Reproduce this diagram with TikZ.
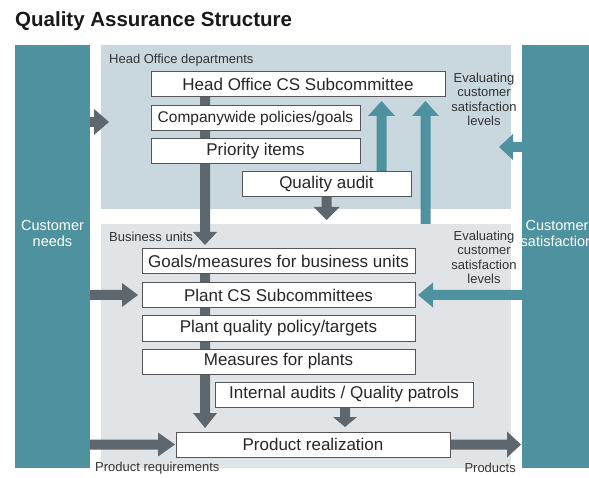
\documentclass[tikz,border=0pt]{standalone}
\usepackage{fontspec}
\setmainfont{Liberation Sans}
\usetikzlibrary{calc}
\definecolor{tealbar}{HTML}{4E929F}
\definecolor{arrgray}{HTML}{5E666E}
\definecolor{hopanel}{HTML}{C9D8DF}
\definecolor{bupanel}{HTML}{E1E4E7}
\definecolor{boxline}{HTML}{555555}
\definecolor{txt}{HTML}{333333}
\newcommand\ArrDown[5]{\fill[#1] let \p1=(#2), \p2=(#3) in (\x2-5pt,\y1) -- (\x2-5pt,\y2+#5) -- (\x2-#4,\y2+#5) -- (\x2,\y2) -- (\x2+#4,\y2+#5) -- (\x2+5pt,\y2+#5) -- (\x2+5pt,\y1) -- cycle;}
\newcommand\ArrUp[5]{\fill[#1] let \p1=(#2), \p2=(#3) in (\x2-5pt,\y1) -- (\x2-5pt,\y2-#5) -- (\x2-#4,\y2-#5) -- (\x2,\y2) -- (\x2+#4,\y2-#5) -- (\x2+5pt,\y2-#5) -- (\x2+5pt,\y1) -- cycle;}
\newcommand\ArrRight[5]{\fill[#1] let \p1=(#2), \p2=(#3) in (\x1,\y2-5pt) -- (\x2-#5,\y2-5pt) -- (\x2-#5,\y2-#4) -- (\x2,\y2) -- (\x2-#5,\y2+#4) -- (\x2-#5,\y2+5pt) -- (\x1,\y2+5pt) -- cycle;}
\newcommand\ArrLeft[5]{\fill[#1] let \p1=(#2), \p2=(#3) in (\x1,\y2-5pt) -- (\x2+#5,\y2-5pt) -- (\x2+#5,\y2-#4) -- (\x2,\y2) -- (\x2+#5,\y2+#4) -- (\x2+#5,\y2+5pt) -- (\x1,\y2+5pt) -- cycle;}
\tikzset{
  panel/.style={draw=none, inner sep=0pt, outer sep=0pt},
  flowbox/.style={draw=boxline, line width=1pt, fill=white, inner sep=0pt, outer sep=0pt, minimum height=25pt, text=black!85, font=\fontsize{17}{20}\selectfont},
  smalllabel/.style={inner sep=0pt, text=txt, font=\fontsize{13}{14.5}\selectfont},
  evallabel/.style={inner sep=0pt, text=txt, align=center, font=\fontsize{13}{14.5}\selectfont},
  barlabel/.style={inner sep=0pt, text=white, align=center, font=\fontsize{14.5}{16}\selectfont},
}
\begin{document}
\begin{tikzpicture}[x=1pt, y=-1pt]
\useasboundingbox (0,0) rectangle (589,478);
\clip (0,0) rectangle (589,478);
% title
\node[anchor=base west, inner sep=0pt, text=black!90, font=\fontsize{20.5}{24}\selectfont\bfseries] (title) at (15,27) {Quality Assurance Structure};
% panels and bars
\node[panel, fill=hopanel, minimum width=410pt, minimum height=164pt] (hopan) at (306,127) {};
\node[panel, fill=bupanel, minimum width=410pt, minimum height=244pt] (bupan) at (306,346) {};
\node[panel, fill=tealbar, minimum width=75pt, minimum height=423pt] (lbar) at (52.5,256.5) {};
\node[panel, fill=tealbar, minimum width=70pt, minimum height=423pt] (rbar) at (557,256.5) {};
% coordinates for arrow tips
\coordinate (t1) at (205,245);
\coordinate (t2) at (326.5,220);
\coordinate (t3) at (381.5,101);
\coordinate (t4) at (425.5,101);
\coordinate (t5) at (499,147);
\coordinate (t6) at (109,122);
\coordinate (t7) at (205,428);
\coordinate (t8) at (345,427);
\coordinate (t9) at (418,295);
\coordinate (t10) at (138,295);
\coordinate (t11) at (175,444.5);
\coordinate (t12) at (521,444.5);
% box centres
\path (298,84.5) coordinate (chocs) (255.5,118) coordinate (ccwp) (255.5,151.5) coordinate (cprio)
      (326.5,184.5) coordinate (cqa) (278.5,261.5) coordinate (cgoals) (278.5,295) coordinate (cplant)
      (278.5,328.5) coordinate (cpqp) (278.5,361.5) coordinate (cmfp) (344,394.5) coordinate (cia)
      (313,444.5) coordinate (cpr);
% arrows
\ArrDown{arrgray}{chocs -| t1}{t1}{12pt}{13pt}
\ArrDown{arrgray}{cqa -| t2}{t2}{13pt}{13pt}
\ArrUp{tealbar}{cqa -| t3}{t3}{13.5pt}{15pt}
\ArrUp{tealbar}{bupan.north -| t4}{t4}{13.5pt}{15pt}
\ArrLeft{tealbar}{rbar.west |- t5}{t5}{13pt}{14pt}
\ArrRight{arrgray}{lbar.east |- t6}{t6}{13pt}{15pt}
\ArrDown{arrgray}{cgoals -| t7}{t7}{12pt}{15pt}
\ArrDown{arrgray}{cia -| t8}{t8}{12pt}{10pt}
\ArrLeft{tealbar}{rbar.west |- t9}{t9}{12.5pt}{15pt}
\ArrRight{arrgray}{lbar.east |- t10}{t10}{12pt}{16pt}
\ArrRight{arrgray}{lbar.east |- t11}{t11}{12pt}{17pt}
\ArrRight{arrgray}{cpr}{t12}{13pt}{14pt}
% boxes
\node[flowbox, minimum width=294pt] (hocs) at (chocs) {Head Office CS Subcommittee};
\node[flowbox, minimum width=209pt, font=\fontsize{15.5}{18}\selectfont] (cwp) at (ccwp) {Companywide policies/goals};
\node[flowbox, minimum width=209pt] (prio) at (cprio) {Priority items};
\node[flowbox, minimum width=169pt] (qa) at (cqa) {Quality audit};
\node[flowbox, minimum width=273pt] (goals) at (cgoals) {Goals/measures for business units};
\node[flowbox, minimum width=273pt] (plant) at (cplant) {Plant CS Subcommittees};
\node[flowbox, minimum width=273pt] (pqp) at (cpqp) {Plant quality policy/targets};
\node[flowbox, minimum width=273pt] (mfp) at (cmfp) {Measures for plants};
\node[flowbox, minimum width=258pt] (ia) at (cia) {Internal audits / Quality patrols};
\node[flowbox, minimum width=274pt] (pr) at (cpr) {Product realization};
% labels
\node[smalllabel, anchor=west] (holab) at (109,60) {Head Office departments};
\node[smalllabel, anchor=west] (bulab) at (109,237) {Business units};
\node[evallabel] (eval1) at (484,99.5) {Evaluating\\customer\\satisfaction\\levels};
\node[evallabel] (eval2) at (484,257.5) {Evaluating\\customer\\satisfaction\\levels};
\node[barlabel] (needs) at (52.5,234) {Customer\\needs};
\node[barlabel] (satis) at (557,234) {Customer\\satisfaction};
\node[smalllabel, anchor=west] (preq) at (95,468) {Product requirements};
\node[smalllabel, anchor=east] (prods) at (516,468) {Products};
\end{tikzpicture}
\end{document}
